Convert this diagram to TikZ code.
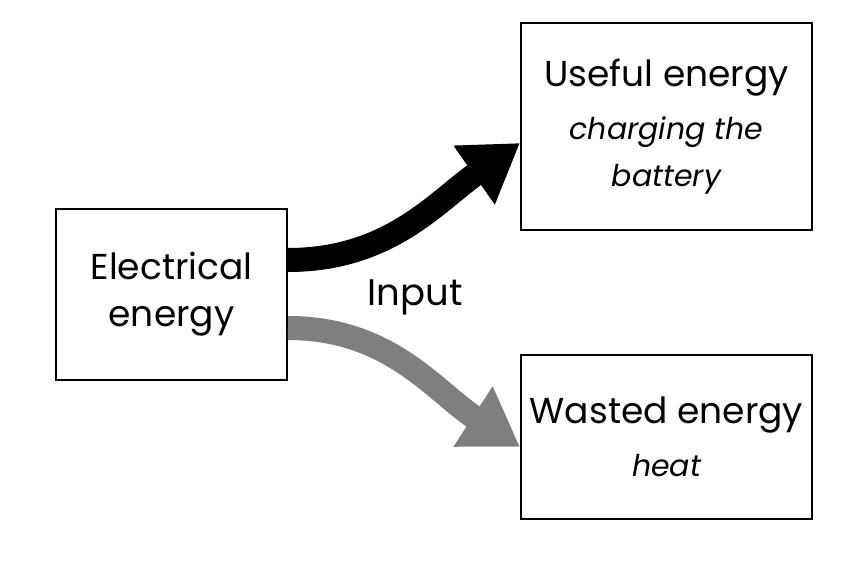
\documentclass[tikz,border=0pt]{standalone}
\usepackage{fontspec}
\setmainfont{Poppins}
\usetikzlibrary{arrows.meta,positioning}
\definecolor{lossgray}{HTML}{7F7F7F}
\newcommand{\notefont}{\fontsize{30}{42}\selectfont\itshape}

\begin{document}
\begin{tikzpicture}[x=1pt,y=1pt,
  box/.style={draw, line width=2pt, align=center, inner sep=0pt,
    font=\fontsize{36}{47}\selectfont},
  flow/.style={line width=24pt, -{Triangle[width=68pt,length=56pt]}}]
  \useasboundingbox (0,0) rectangle (850,567);
  % boxes
  \node[box, minimum width=231pt, minimum height=171pt] (elec) at (171.5,272.5)
    {Electrical\\energy};
  \node[box, minimum width=291pt, minimum height=207pt] (useful) at (666.5,440.5)
    {Useful energy\\[6pt]\notefont charging the\\\notefont battery};
  \node[box, minimum width=291pt, minimum height=164pt] (wasted) at (666.5,130)
    {Wasted energy\\[6pt]\notefont heat};
  \node[font=\fontsize{37}{44}\selectfont, anchor=base] (input) at (415,261) {Input};
  % flows
  \draw[flow] ([yshift=34.5pt]elec.east) to[out=0,in=215] ([yshift=-16.5pt]useful.west);
  \draw[flow, draw=lossgray] ([yshift=-33.5pt]elec.east) to[out=0,in=147] ([yshift=-10pt]wasted.west);
\end{tikzpicture}
\end{document}
